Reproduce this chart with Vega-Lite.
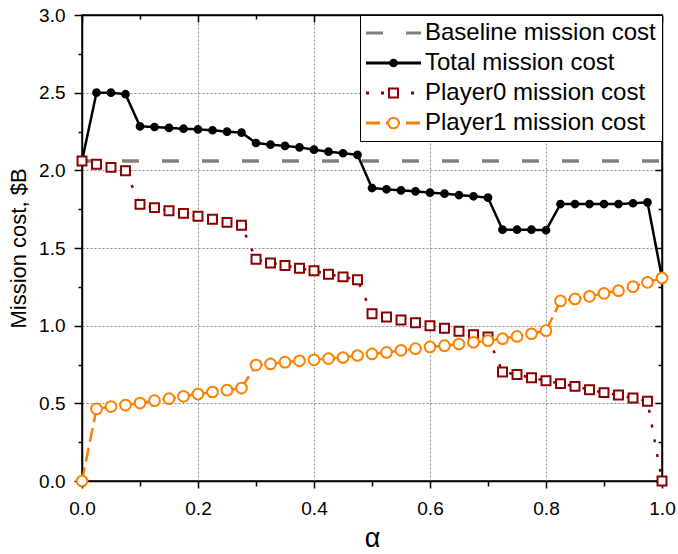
{
  "$schema": "https://vega.github.io/schema/vega-lite/v6.json",
  "width": 580,
  "height": 466,
  "autosize": {"type": "none"},
  "padding": {"left": 82, "top": 15, "right": 16, "bottom": 73},
  "background": "white",
  "config": {
    "view": {"stroke": "black", "strokeWidth": 1.5},
    "font": "Liberation Sans"
  },
  "datasets": {
    "baseline": [
      {"x": 0, "series": "Baseline mission cost", "y": 2.06},
      {"x": 1, "series": "Baseline mission cost", "y": 2.06}
    ],
    "costs": [
      {"x": 0.000, "Total mission cost": 2.060, "Player0 mission cost": 2.060, "Player1 mission cost": 0.000},
      {"x": 0.025, "Total mission cost": 2.500, "Player0 mission cost": 2.039, "Player1 mission cost": 0.464},
      {"x": 0.050, "Total mission cost": 2.500, "Player0 mission cost": 2.019, "Player1 mission cost": 0.479},
      {"x": 0.075, "Total mission cost": 2.490, "Player0 mission cost": 1.997, "Player1 mission cost": 0.489},
      {"x": 0.100, "Total mission cost": 2.283, "Player0 mission cost": 1.781, "Player1 mission cost": 0.502},
      {"x": 0.125, "Total mission cost": 2.279, "Player0 mission cost": 1.760, "Player1 mission cost": 0.517},
      {"x": 0.150, "Total mission cost": 2.273, "Player0 mission cost": 1.740, "Player1 mission cost": 0.530},
      {"x": 0.175, "Total mission cost": 2.268, "Player0 mission cost": 1.723, "Player1 mission cost": 0.545},
      {"x": 0.200, "Total mission cost": 2.264, "Player0 mission cost": 1.704, "Player1 mission cost": 0.560},
      {"x": 0.225, "Total mission cost": 2.258, "Player0 mission cost": 1.685, "Player1 mission cost": 0.573},
      {"x": 0.250, "Total mission cost": 2.249, "Player0 mission cost": 1.665, "Player1 mission cost": 0.585},
      {"x": 0.275, "Total mission cost": 2.243, "Player0 mission cost": 1.646, "Player1 mission cost": 0.598},
      {"x": 0.300, "Total mission cost": 2.176, "Player0 mission cost": 1.427, "Player1 mission cost": 0.746},
      {"x": 0.325, "Total mission cost": 2.165, "Player0 mission cost": 1.404, "Player1 mission cost": 0.754},
      {"x": 0.350, "Total mission cost": 2.157, "Player0 mission cost": 1.387, "Player1 mission cost": 0.765},
      {"x": 0.375, "Total mission cost": 2.148, "Player0 mission cost": 1.370, "Player1 mission cost": 0.774},
      {"x": 0.400, "Total mission cost": 2.133, "Player0 mission cost": 1.353, "Player1 mission cost": 0.780},
      {"x": 0.425, "Total mission cost": 2.120, "Player0 mission cost": 1.331, "Player1 mission cost": 0.788},
      {"x": 0.450, "Total mission cost": 2.110, "Player0 mission cost": 1.314, "Player1 mission cost": 0.795},
      {"x": 0.475, "Total mission cost": 2.100, "Player0 mission cost": 1.295, "Player1 mission cost": 0.808},
      {"x": 0.500, "Total mission cost": 1.886, "Player0 mission cost": 1.077, "Player1 mission cost": 0.818},
      {"x": 0.525, "Total mission cost": 1.878, "Player0 mission cost": 1.056, "Player1 mission cost": 0.828},
      {"x": 0.550, "Total mission cost": 1.871, "Player0 mission cost": 1.036, "Player1 mission cost": 0.841},
      {"x": 0.575, "Total mission cost": 1.865, "Player0 mission cost": 1.019, "Player1 mission cost": 0.852},
      {"x": 0.600, "Total mission cost": 1.856, "Player0 mission cost": 1.000, "Player1 mission cost": 0.863},
      {"x": 0.625, "Total mission cost": 1.850, "Player0 mission cost": 0.983, "Player1 mission cost": 0.871},
      {"x": 0.650, "Total mission cost": 1.841, "Player0 mission cost": 0.964, "Player1 mission cost": 0.882},
      {"x": 0.675, "Total mission cost": 1.833, "Player0 mission cost": 0.942, "Player1 mission cost": 0.893},
      {"x": 0.700, "Total mission cost": 1.824, "Player0 mission cost": 0.927, "Player1 mission cost": 0.903},
      {"x": 0.725, "Total mission cost": 1.618, "Player0 mission cost": 0.702, "Player1 mission cost": 0.916},
      {"x": 0.750, "Total mission cost": 1.618, "Player0 mission cost": 0.685, "Player1 mission cost": 0.931},
      {"x": 0.775, "Total mission cost": 1.618, "Player0 mission cost": 0.665, "Player1 mission cost": 0.948},
      {"x": 0.800, "Total mission cost": 1.614, "Player0 mission cost": 0.646, "Player1 mission cost": 0.968},
      {"x": 0.825, "Total mission cost": 1.783, "Player0 mission cost": 0.627, "Player1 mission cost": 1.159},
      {"x": 0.850, "Total mission cost": 1.783, "Player0 mission cost": 0.609, "Player1 mission cost": 1.172},
      {"x": 0.875, "Total mission cost": 1.783, "Player0 mission cost": 0.588, "Player1 mission cost": 1.189},
      {"x": 0.900, "Total mission cost": 1.783, "Player0 mission cost": 0.569, "Player1 mission cost": 1.208},
      {"x": 0.925, "Total mission cost": 1.783, "Player0 mission cost": 0.554, "Player1 mission cost": 1.225},
      {"x": 0.950, "Total mission cost": 1.788, "Player0 mission cost": 0.534, "Player1 mission cost": 1.251},
      {"x": 0.975, "Total mission cost": 1.794, "Player0 mission cost": 0.513, "Player1 mission cost": 1.279},
      {"x": 1.000, "Total mission cost": 1.307, "Player0 mission cost": 0.000, "Player1 mission cost": 1.307}
    ]
  },
  "resolve": {
    "scale": {"x": "shared", "y": "shared"},
    "axis": {"x": "independent", "y": "independent"}
  },
  "layer": [
    {
      "data": {"name": "baseline"},
      "mark": {"type": "line", "strokeWidth": 3.5},
      "encoding": {
        "x": {
          "field": "x", "type": "quantitative",
          "scale": {"domain": [0, 1], "nice": false, "zero": false},
          "axis": {
            "orient": "bottom",
            "values": [0, 0.1, 0.2, 0.3, 0.4, 0.5, 0.6, 0.7, 0.8, 0.9, 1.0],
            "labelExpr": "round(datum.value*10)%2==0 ? format(datum.value,'.1f') : ''",
            "labelFlush": false,
            "labelOverlap": false,
            "labelFont": "Liberation Sans",
            "labelFontSize": 19,
            "labelColor": "black",
            "labelPadding": 11,
            "tickSize": {"condition": {"test": "round(datum.value*10)%2==1", "value": 5}, "value": 7},
            "tickColor": "black",
            "tickWidth": 1.5,
            "domainColor": "black",
            "domainWidth": 1.5,
            "grid": true,
            "gridColor": "#888888",
            "gridDash": [2, 2],
            "gridWidth": 1,
            "gridOpacity": {"condition": {"test": "round(datum.value*10)%2==1", "value": 0}, "value": 1},
            "title": "α",
            "titleFont": "Liberation Sans",
            "titleFontSize": 27,
            "titleFontWeight": "normal",
            "titleColor": "black",
            "titlePadding": 7
          }
        },
        "y": {
          "field": "y", "type": "quantitative",
          "scale": {"domain": [0, 3], "nice": false, "zero": true},
          "axis": {
            "orient": "left",
            "values": [0, 0.25, 0.5, 0.75, 1.0, 1.25, 1.5, 1.75, 2.0, 2.25, 2.5, 2.75, 3.0],
            "labelExpr": "round(datum.value*4)%2==0 ? format(datum.value,'.1f') : ''",
            "labelFlush": false,
            "labelOverlap": false,
            "labelFont": "Liberation Sans",
            "labelFontSize": 19,
            "labelColor": "black",
            "labelPadding": 9,
            "tickSize": {"condition": {"test": "round(datum.value*4)%2==1", "value": 4}, "value": 8},
            "tickColor": "black",
            "tickWidth": 1.5,
            "domainColor": "black",
            "domainWidth": 1.5,
            "grid": true,
            "gridColor": "#888888",
            "gridDash": [2, 2],
            "gridWidth": 1,
            "gridOpacity": {"condition": {"test": "round(datum.value*4)%2==1", "value": 0}, "value": 1},
            "title": "Mission cost, $B",
            "titleFont": "Liberation Sans",
            "titleFontSize": 22,
            "titleFontWeight": "normal",
            "titleColor": "black",
            "titlePadding": 8
          }
        },
        "color": {
          "field": "series", "type": "nominal",
          "scale": {
            "domain": ["Baseline mission cost", "Total mission cost", "Player0 mission cost", "Player1 mission cost"],
            "range": ["#808080", "#000000", "#8B0000", "#FF8000"]
          },
          "legend": {
            "orient": "none", "legendX": 278, "legendY": 0,
            "title": null, "symbolType": "M-1.2,0H4.3", "symbolSize": 400, "symbolStrokeWidth": 3,
            "labelFont": "Liberation Sans", "labelFontSize": 24, "labelColor": "black", "labelLimit": 0,
            "labelOffset": 35, "padding": 6, "rowPadding": 6,
            "strokeColor": "black", "fillColor": "white"
          }
        },
        "strokeDash": {
          "field": "series", "type": "nominal",
          "scale": {
            "domain": ["Baseline mission cost", "Total mission cost", "Player0 mission cost", "Player1 mission cost"],
            "range": [[17, 23], [1, 0], [3, 12], [14, 6]]
          },
          "legend": {
            "orient": "none", "legendX": 278, "legendY": 0,
            "title": null, "symbolType": "M-1.2,0H4.3", "symbolSize": 400, "symbolStrokeWidth": 3,
            "labelFont": "Liberation Sans", "labelFontSize": 24, "labelColor": "black", "labelLimit": 0,
            "labelOffset": 35, "padding": 6, "rowPadding": 6,
            "strokeColor": "black", "fillColor": "white"
          }
        }
      }
    },
    {
      "data": {"name": "costs"},
      "transform": [
        {"fold": ["Total mission cost", "Player0 mission cost", "Player1 mission cost"], "as": ["series", "y"]}
      ],
      "mark": {"type": "line", "strokeWidth": 2.5},
      "encoding": {
        "x": {"field": "x", "type": "quantitative", "axis": null},
        "y": {"field": "y", "type": "quantitative", "axis": null},
        "color": {"field": "series", "type": "nominal", "legend": null},
        "strokeDash": {"field": "series", "type": "nominal", "legend": null}
      }
    },
    {
      "data": {"name": "costs"},
      "transform": [
        {"fold": ["Total mission cost", "Player0 mission cost", "Player1 mission cost"], "as": ["series", "y"]}
      ],
      "mark": {"type": "point", "strokeWidth": 2, "opacity": 1},
      "encoding": {
        "x": {
          "field": "x", "type": "quantitative",
          "axis": {
            "orient": "top",
            "values": [0, 0.1, 0.2, 0.3, 0.4, 0.5, 0.6, 0.7, 0.8, 0.9, 1.0],
            "labels": false, "grid": false, "title": null,
            "tickSize": {"condition": {"test": "round(datum.value*10)%2==1", "value": -4}, "value": -7},
            "tickColor": "black", "tickWidth": 1.5,
            "domainColor": "black", "domainWidth": 1.5
          }
        },
        "y": {
          "field": "y", "type": "quantitative",
          "axis": {
            "orient": "right",
            "values": [0, 0.25, 0.5, 0.75, 1.0, 1.25, 1.5, 1.75, 2.0, 2.25, 2.5, 2.75, 3.0],
            "labels": false, "grid": false, "title": null,
            "tickSize": {"condition": {"test": "round(datum.value*4)%2==1", "value": -4}, "value": -7},
            "tickColor": "black", "tickWidth": 1.5,
            "domainColor": "black", "domainWidth": 1.5
          }
        },
        "shape": {
          "field": "series", "type": "nominal",
          "scale": {
            "domain": ["Baseline mission cost ", "Total mission cost", "Player0 mission cost", "Player1 mission cost"],
            "range": ["circle", "circle", "square", "circle"]
          },
          "legend": {
            "orient": "none", "legendX": 278, "legendY": 0, "title": null,
            "labelExpr": "'\u00a0'",
            "labelFont": "Liberation Sans", "labelFontSize": 24, "labelColor": "transparent", "labelLimit": 0,
            "labelOffset": -24, "padding": 6, "rowPadding": 6, "symbolStrokeWidth": 2, "symbolOffset": 15.5
          }
        },
        "stroke": {
          "field": "series", "type": "nominal",
          "scale": {
            "domain": ["Baseline mission cost ", "Total mission cost", "Player0 mission cost", "Player1 mission cost"],
            "range": ["transparent", "#000000", "#8B0000", "#FF8000"]
          },
          "legend": {
            "orient": "none", "legendX": 278, "legendY": 0, "title": null,
            "labelExpr": "'\u00a0'",
            "labelFont": "Liberation Sans", "labelFontSize": 24, "labelColor": "transparent", "labelLimit": 0,
            "labelOffset": -24, "padding": 6, "rowPadding": 6, "symbolStrokeWidth": 2, "symbolOffset": 15.5
          }
        },
        "fill": {
          "field": "series", "type": "nominal",
          "scale": {
            "domain": ["Baseline mission cost ", "Total mission cost", "Player0 mission cost", "Player1 mission cost"],
            "range": ["transparent", "#000000", "#FFFFFF", "#FFFFFF"]
          },
          "legend": {
            "orient": "none", "legendX": 278, "legendY": 0, "title": null,
            "labelExpr": "'\u00a0'",
            "labelFont": "Liberation Sans", "labelFontSize": 24, "labelColor": "transparent", "labelLimit": 0,
            "labelOffset": -24, "padding": 6, "rowPadding": 6, "symbolStrokeWidth": 2, "symbolOffset": 15.5
          }
        },
        "size": {
          "field": "series", "type": "nominal",
          "scale": {
            "domain": ["Baseline mission cost ", "Total mission cost", "Player0 mission cost", "Player1 mission cost"],
            "range": [10, 115, 60, 55]
          },
          "legend": {
            "orient": "none", "legendX": 278, "legendY": 0, "title": null,
            "labelExpr": "'\u00a0'",
            "labelFont": "Liberation Sans", "labelFontSize": 24, "labelColor": "transparent", "labelLimit": 0,
            "labelOffset": -24, "padding": 6, "rowPadding": 6, "symbolStrokeWidth": 2, "symbolOffset": 15.5
          }
        }
      }
    }
  ]
}
